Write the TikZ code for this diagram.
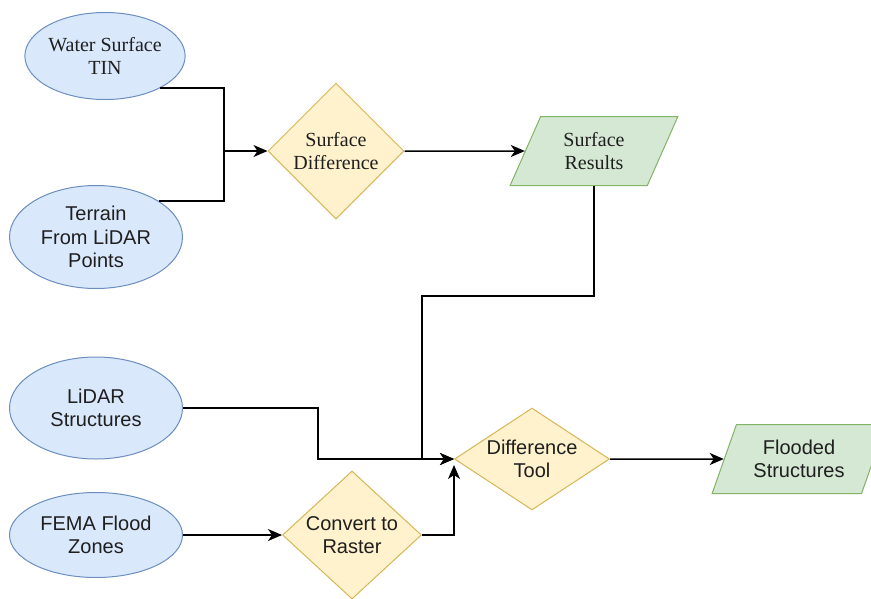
\documentclass[tikz,border=0pt]{standalone}
\usepackage{fontspec}
\setmainfont{Liberation Serif}
\setsansfont{Liberation Sans}
\usetikzlibrary{shapes.geometric,arrows.meta,calc}
\definecolor{bluefill}{HTML}{DAE8FC}
\definecolor{bluedraw}{HTML}{6C8EBF}
\definecolor{yellowfill}{HTML}{FFF2CC}
\definecolor{yellowdraw}{HTML}{D6B656}
\definecolor{greenfill}{HTML}{D5E8D4}
\definecolor{greendraw}{HTML}{82B366}
\definecolor{txt}{HTML}{1F1F1F}
\begin{document}
\begin{tikzpicture}
% I work in pixels here, with y pointing down like the screenshot
[x=1pt,y=-1pt,
 serif/.style={font=\fontsize{20}{23.3}\selectfont\rmfamily,text=txt,align=center},
 sans/.style={font=\fontsize{20}{23.3}\selectfont\sffamily,text=txt,align=center},
 source/.style={ellipse,fill=bluefill,draw=bluedraw,line width=1pt,inner sep=0pt},
 process/.style={diamond,fill=yellowfill,draw=yellowdraw,line width=1pt,inner sep=0pt},
 result/.style={trapezium,trapezium left angle=65,trapezium right angle=115,
   trapezium stretches=true,fill=greenfill,draw=greendraw,line width=1pt,
   inner sep=0pt,minimum height=69pt},
 link/.style={line width=1.5pt},
 flow/.style={link,-{Stealth[length=14pt,width=12pt,inset=4pt]}}]
\useasboundingbox (0,0) rectangle (871,598);
%The inputs on the left:
\node[source,serif,minimum width=156pt,minimum height=87pt] (ws) at (105,56) {Water Surface\\TIN};
\node[source,sans,minimum width=173pt,minimum height=103pt] (tr) at (96,237) {Terrain\\From LiDAR\\Points};
\node[source,sans,minimum width=173pt,minimum height=102pt] (ls) at (96,408) {LiDAR\\Structures};
\node[source,sans,minimum width=173pt,minimum height=85pt] (fz) at (96,535) {FEMA Flood\\Zones};
%The tools:
\node[process,minimum width=136pt,minimum height=136pt,label={[serif]center:Surface\\Difference}] (sd) at (336,151) {};
\node[process,minimum width=155pt,minimum height=102pt,label={[sans]center:Difference\\Tool}] (dt) at (532,459) {};
\node[process,minimum width=139pt,minimum height=128pt,label={[sans]center:Convert to\\Raster}] (cr) at (352,535) {};
%The outputs:
\node[result,serif,minimum width=168pt] (sr) at (594,151) {Surface\\Results};
\node[result,sans,minimum width=174pt] (fs) at (799,459) {Flooded\\Structures};

%Connectors:
\coordinate (m) at (224,151);
\coordinate (j) at (422,296);
\coordinate (k) at (318,459);
\draw[link] (ws.-30) -| (m);
\draw[link] (tr.30) -| (m);
\draw[flow] (m) -- (sd.west);
\draw[flow] (sd.east) -- (sr.west);
\draw[flow] (sr.south) |- (j) |- (dt.west);
\draw[flow] (ls.east) -| (k) -- (dt.west);
\draw[flow] (fz.east) -- (cr.west);
\draw[flow] (cr.east) -| ($(dt.west)+(0,6)$);
\draw[flow] (dt.east) -- (fs.west);
\end{tikzpicture}
\end{document}
